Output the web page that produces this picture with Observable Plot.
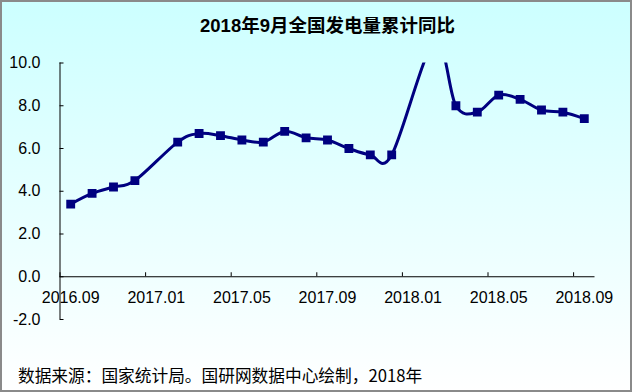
<!DOCTYPE html>
<html><head><meta charset="utf-8">
<script src="https://cdn.jsdelivr.net/npm/d3@7"></script>
<script src="https://cdn.jsdelivr.net/npm/@observablehq/plot@0.6"></script>
<style>
body{margin:0;}
#wrap{position:relative;width:632px;height:392px;background:linear-gradient(to bottom,#ccffff 0%,#ffffff 100%);overflow:hidden;}
#border{position:absolute;left:0;top:0;right:0;bottom:0;border:2px solid #8a8a8a;box-sizing:border-box;pointer-events:none;}
#title{position:absolute;left:60px;width:535px;top:17px;line-height:18px;text-align:center;font-weight:bold;font-size:18.5px;font-family:"Liberation Sans","Noto Sans CJK SC",sans-serif;color:#000;}
#chart{position:absolute;left:0;top:40px;}
#caption{position:absolute;left:18px;top:367px;line-height:16.7px;font-size:16.7px;font-family:"Noto Sans CJK SC",sans-serif;color:#000;white-space:nowrap;}
</style></head>
<body>
<div id="wrap">
  <div id="title">2018年9月全国发电量累计同比</div>
  <div id="chart"></div>
  <div id="caption">数据来源：国家统计局。国研网数据中心绘制，2018年</div>
  <div id="border"></div>
</div>
<script>
const months = ["2016.09","2016.10","2016.11","2016.12","2017.01","2017.02","2017.03","2017.04","2017.05","2017.06","2017.07","2017.08","2017.09","2017.10","2017.11","2017.12","2018.01","2018.02","2018.03","2018.04","2018.05","2018.06","2018.07","2018.08","2018.09"];
const values = [3.4,3.9,4.2,4.5,null,6.3,6.7,6.6,6.4,6.3,6.8,6.5,6.4,6.0,5.7,5.7,null,11.0,8.0,7.7,8.5,8.3,7.8,7.7,7.4];
const xTickLabels = ["2016.09","2017.01","2017.05","2017.09","2018.01","2018.05","2018.09"];
const yTicks = [-2,0,2,4,6,8,10];

const series = months.map((m,i)=>({i, m, v: values[i]})).filter(d=>d.v!=null);
const labelIdx = xTickLabels.map(l=>months.indexOf(l));

const chart = Plot.plot({
  width: 632, height: 300,
  marginLeft: 59.5, marginRight: 37.5, marginTop: 22.5, marginBottom: 21,
  x: {domain: [-0.5, months.length - 0.5], axis: null},
  y: {domain: [-2, 10], label: null},
  style: {background: "transparent", fontFamily: "'Liberation Sans', Arial, sans-serif", fontSize: "16px", color: "#000"},
  marks: [
    Plot.axisY({ticks: yTicks, tickSize: 0, tickPadding: 19.5, tickFormat: d=>d.toFixed(1), label: null}),
    Plot.ruleX([-0.5], {stroke: "#000"}),
    Plot.ruleY(yTicks, {x1: -0.5, x2: -0.5, insetRight: -4, stroke: "#000"}),
    Plot.ruleY([0], {stroke: "#000"}),
    Plot.ruleX(labelIdx.map(i=>i-0.5), {y1: 0, y2: 0, insetBottom: 4, stroke: "#000"}),
    Plot.text(xTickLabels, {x: (d,k)=>labelIdx[k], y: 0, text: d=>d, dy: 21, fill: "#000"}),
    Plot.line(series, {x: "i", y: "v", curve: "cardinal", stroke: "#000080", strokeWidth: 3, clip: true}),
    Plot.dot(series, {x: "i", y: "v", symbol: "square", r: 5, fill: "#000080", stroke: "none", clip: true})
  ]
});
document.getElementById("chart").appendChild(chart);
</script>
</body></html>
